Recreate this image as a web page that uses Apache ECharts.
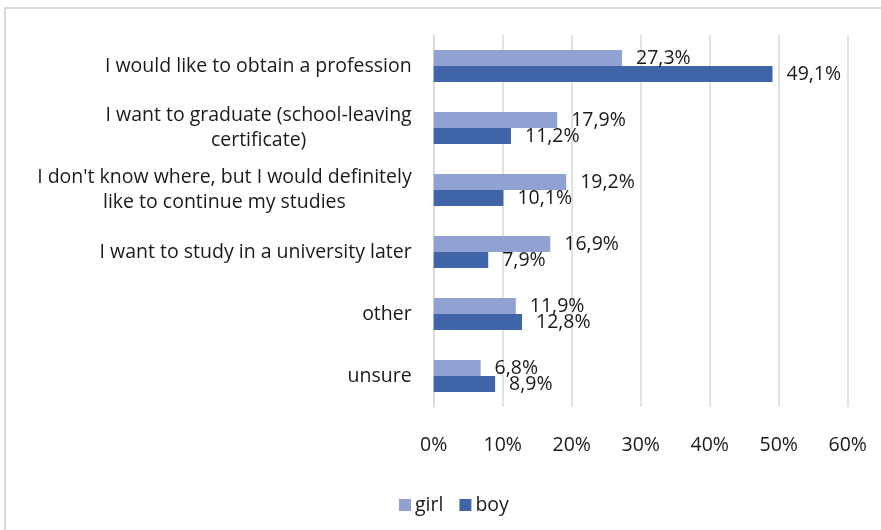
<!DOCTYPE html>
<html>
<head>
<meta charset="utf-8">
<script src="https://cdn.jsdelivr.net/npm/echarts@6/dist/echarts.min.js"></script>
<style>
  html, body { margin: 0; padding: 0; background: #fff; }
  #chart { width: 881px; height: 530px; }
</style>
</head>
<body>
<div id="chart"></div>
<script>
// Answers listed top to bottom
const categories = [
  'I would like to obtain a profession',
  'I want to graduate (school-leaving\ncertificate)',
  "I don't know where, but I would definitely\nlike to continue my studies",
  'I want to study in a university later',
  'other',
  'unsure'
];
const girlValues = [27.3, 17.9, 19.2, 16.9, 11.9, 6.8];
const boyValues = [49.1, 11.2, 10.1, 7.9, 12.8, 8.9];
const seriesNames = ['girl', 'boy'];

const FONT = 'Open Sans';
const FS = 19.5;
const TEXT = '#1a1a1a';

const fmtPct = p => p.value.toFixed(1).replace('.', ',') + '%';

const chart = echarts.init(document.getElementById('chart'), null, { renderer: 'canvas' });

chart.setOption({
  backgroundColor: '#fff',
  animation: false,
  textStyle: { fontFamily: FONT },
  graphic: [{
    type: 'rect',
    shape: { x: 5, y: 8, width: 900, height: 600 },
    style: { fill: 'none', stroke: '#d9d9d9', lineWidth: 2 },
    silent: true
  }],
  grid: { left: 433.7, right: 33.3, top: 35, bottom: 123, containLabel: false },
  legend: {
    data: seriesNames,
    bottom: 10,
    left: 394,
    icon: 'rect',
    itemWidth: 12,
    itemHeight: 12,
    itemGap: 16,
    textStyle: { fontFamily: FONT, fontSize: FS, color: TEXT, padding: [0, 0, 0, -1] }
  },
  xAxis: {
    type: 'value',
    min: 0,
    max: 60,
    interval: 10,
    axisLine: { show: false },
    axisTick: { show: false },
    splitLine: { lineStyle: { color: '#d9d9d9', width: 1.5 } },
    axisLabel: {
      margin: 28,
      fontFamily: FONT,
      fontSize: FS,
      color: TEXT,
      formatter: v => v + '%'
    }
  },
  yAxis: {
    type: 'category',
    data: categories,
    inverse: true,
    axisLine: { show: true, lineStyle: { color: '#d9d9d9', width: 1.5 } },
    axisTick: { show: false },
    axisLabel: {
      margin: 22,
      fontFamily: FONT,
      fontSize: FS,
      color: TEXT,
      lineHeight: 25,
      formatter: v => v.split('\n').map(s => '{c|' + s + '}').join('\n'),
      rich: { c: { align: 'center', fontFamily: FONT, fontSize: FS, color: TEXT, lineHeight: 25 } }
    }
  },
  series: [
    {
      name: seriesNames[0],
      type: 'bar',
      data: girlValues,
      barWidth: 16,
      barGap: '0%',
      itemStyle: { color: '#8fa2d1' },
      label: { show: true, position: 'right', distance: 14, formatter: fmtPct, fontFamily: FONT, fontSize: FS, color: TEXT }
    },
    {
      name: seriesNames[1],
      type: 'bar',
      data: boyValues,
      barWidth: 16,
      barGap: '0%',
      itemStyle: { color: '#4064a8' },
      label: { show: true, position: 'right', distance: 14, formatter: fmtPct, fontFamily: FONT, fontSize: FS, color: TEXT }
    }
  ]
});
</script>
</body>
</html>
